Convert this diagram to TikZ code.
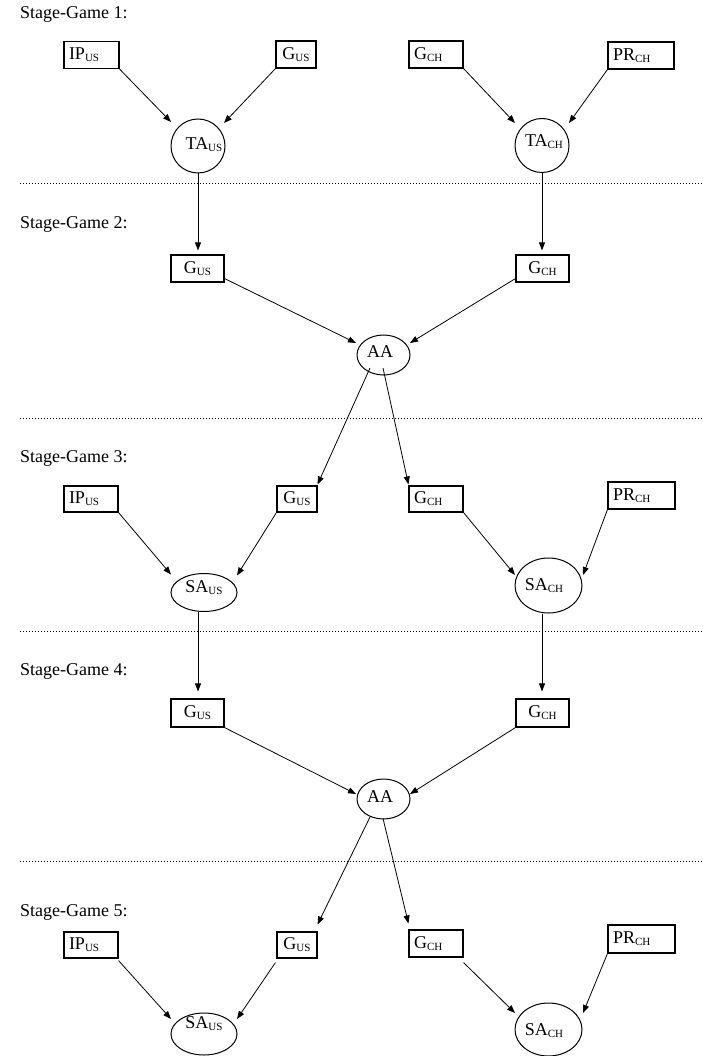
\documentclass[tikz,border=0pt]{standalone}
\usepackage{fontspec}
\setmainfont{Liberation Serif}
\usetikzlibrary{arrows.meta,calc,shapes.geometric}
\newcommand{\mysub}[1]{\raisebox{-2pt}{\fontsize{11}{11}\selectfont #1}}
\begin{document}
\begin{tikzpicture}[x=1pt,y=-1pt,
  font=\fontsize{18}{20}\selectfont,
  bx/.style={draw, rectangle, line width=1.1pt, inner xsep=5pt, inner ysep=0pt, minimum height=27pt},
  bl/.style={bx, text width=#1, align=left},
  bc/.style={bx, text width=#1, align=center},
  circ/.style={draw, circle, line width=1pt, minimum size=54pt, inner sep=0pt},
  ell/.style 2 args={draw, ellipse, line width=1pt, minimum width=#1, minimum height=#2, inner sep=0pt},
  txt/.style={inner sep=0pt, anchor=base},
  stg/.style={inner sep=0pt, anchor=base west},
  arr/.style={line width=0.8pt, -{Triangle[length=8pt,width=6pt]}},
  sep/.style={line width=1pt, dash pattern=on 1pt off 2pt}]
\useasboundingbox (0,0) rectangle (702,1056);

% separators
\draw[sep] (20,184) -- (702,184);
\draw[sep] (20,418) -- (702,418);
\draw[sep] (20,631) -- (702,631);
\draw[sep] (20,861) -- (702,861);

% stage labels
\node[stg] (s1) at (20,18.5) {Stage-Game 1:};
\node[stg] (s2) at (20,229) {Stage-Game 2:};
\node[stg] (s3) at (20,462) {Stage-Game 3:};
\node[stg] (s4) at (20,675) {Stage-Game 4:};
\node[stg] (s5) at (20,916) {Stage-Game 5:};

% ---------- Stage 1 ----------
\node[bl=45pt] (ip1) at (91.5,55) {IP\mysub{US}};
\node[bc=30pt] (gus1) at (296,54.5) {G\mysub{US}};
\node[bl=44pt] (gch1) at (436,54.5) {G\mysub{CH}};
\node[bl=56pt] (pr1) at (641,55.5) {PR\mysub{CH}};
\node[circ] (ta1) at (198,146) {};
\node[circ] (ta2) at (542,145.5) {};
\node[txt] (ta1t) at ($(ta1)+(6,4)$) {TA\mysub{US}};
\node[txt] (ta2t) at ($(ta2)+(2,1.5)$) {TA\mysub{CH}};

% ---------- Stage 2 ----------
\node[bc=43pt] (gus2) at (197.5,268.5) {G\mysub{US}};
\node[bc=43pt] (gch2) at (542.5,268.5) {G\mysub{CH}};
\node[ell={53pt}{40pt}] (aa1) at (383.5,355) {};
\node[txt] (aa1t) at ($(aa1)+(-3.5,2)$) {AA};

% ---------- Stage 3 ----------
\node[bl=44pt, minimum height=26pt] (ip3) at (91,499) {IP\mysub{US}};
\node[bc=30pt, minimum height=26pt] (gus3) at (297,499) {G\mysub{US}};
\node[bl=44pt, minimum height=26pt] (gch3) at (436,499) {G\mysub{CH}};
\node[bl=57pt] (pr3) at (641.5,495.5) {PR\mysub{CH}};
\node[ell={66pt}{38pt}] (sa3) at (204,592.5) {};
\node[ell={67pt}{55pt}] (sach3) at (548.5,585.5) {};
\node[txt] (sa3t) at ($(sa3)+(0,0)$) {SA\mysub{US}};
\node[txt] (sach3t) at ($(sach3)+(-4.5,4.5)$) {SA\mysub{CH}};

% ---------- Stage 4 ----------
\node[bc=43pt, minimum height=28pt] (gus4) at (197.5,713) {G\mysub{US}};
\node[bc=43pt, minimum height=28pt] (gch4) at (542.5,713) {G\mysub{CH}};
\node[ell={53pt}{40pt}] (aa2) at (383.5,799) {};
\node[txt] (aa2t) at ($(aa2)+(-3.5,3)$) {AA};

% ---------- Stage 5 ----------
\node[bl=44pt, minimum height=26pt] (ip5) at (91,945) {IP\mysub{US}};
\node[bc=30pt, minimum height=26pt] (gus5) at (297,945) {G\mysub{US}};
\node[bl=44pt] (gch5) at (436,943.5) {G\mysub{CH}};
\node[bl=57pt, minimum height=28pt] (pr5) at (641.5,939) {PR\mysub{CH}};
\node[ell={66pt}{42pt}] (sa5) at (204,1034) {};
\node[ell={67pt}{53pt}] (sach5) at (548.5,1029.5) {};
\node[txt] (sa5t) at ($(sa5)+(0,-6)$) {SA\mysub{US}};
\node[txt] (sach5t) at ($(sach5)+(-4.5,6)$) {SA\mysub{CH}};

% ---------- connectors ----------
% stage 1
\draw[arr] (ip1.south east) -- ($(ta1)+(-27,-24)$);
\draw[arr] (gus1.south west) -- ($(ta1)+(26,-23)$);
\draw[arr] (gch1.south east) -- ($(ta2)+(-27,-22.5)$);
\draw[arr] (pr1.south west) -- ($(ta2)+(27,-22.5)$);
\draw[arr] (ta1.south) -- ($(ta1.south |- gus2.north)+(0,-4)$);
\draw[arr] (ta2.south) -- ($(ta2.south |- gch2.north)+(0,-4)$);
% stage 2
\draw[arr] ($(gus2.south east)+(0,-4)$) -- ($(aa1)+(-27.5,-12)$);
\draw[arr] ($(gch2.south west)+(0,-4)$) -- ($(aa1)+(26.5,-12)$);
\draw[arr] ($(aa1)+(-13.5,13)$) -- ($(gus3.north east)+(0,-1)$);
\draw[arr] ($(aa1)+(-0.5,13)$) -- ($(gch3.north west)+(0,-1)$);
% stage 3
\draw[arr] (ip3.south east) -- ($(sa3)+(-33,-18)$);
\draw[arr] (gus3.south west) -- ($(sa3)+(33,-17)$);
\draw[arr] (gch3.south east) -- ($(sach3)+(-33.5,-10.5)$);
\draw[arr] (pr3.south west) -- ($(sach3)+(34.5,-10.5)$);
\draw[arr] ($(sa3.south)+(-6,0)$) -- ($(gus4.north)+(0.5,-7)$);
\draw[arr] ($(sach3.south)+(-6.5,0)$) -- ($(gch4.north)+(-0.5,-7)$);
% stage 4
\draw[arr] (gus4.south east) -- ($(aa2)+(-27.5,-5)$);
\draw[arr] (gch4.south west) -- ($(aa2)+(26.5,-5)$);
\draw[arr] ($(aa2)+(-13.5,18)$) -- ($(gus5.north east)+(0,-7)$);
\draw[arr] ($(aa2)+(-0.5,19.5)$) -- ($(gch5.north west)+(0,-6)$);
% stage 5
\draw[arr] ($(ip5.south east)+(0,2)$) -- ($(sa5)+(-33,-15)$);
\draw[arr] ($(gus5.south west)+(-1,4)$) -- ($(sa5)+(33,-15)$);
\draw[arr] ($(gch5.south east)+(0,5)$) -- ($(sach5)+(-33.5,-16.5)$);
\draw[arr] (pr5.south west) -- ($(sach5)+(34.5,-16.5)$);
\end{tikzpicture}
\end{document}
